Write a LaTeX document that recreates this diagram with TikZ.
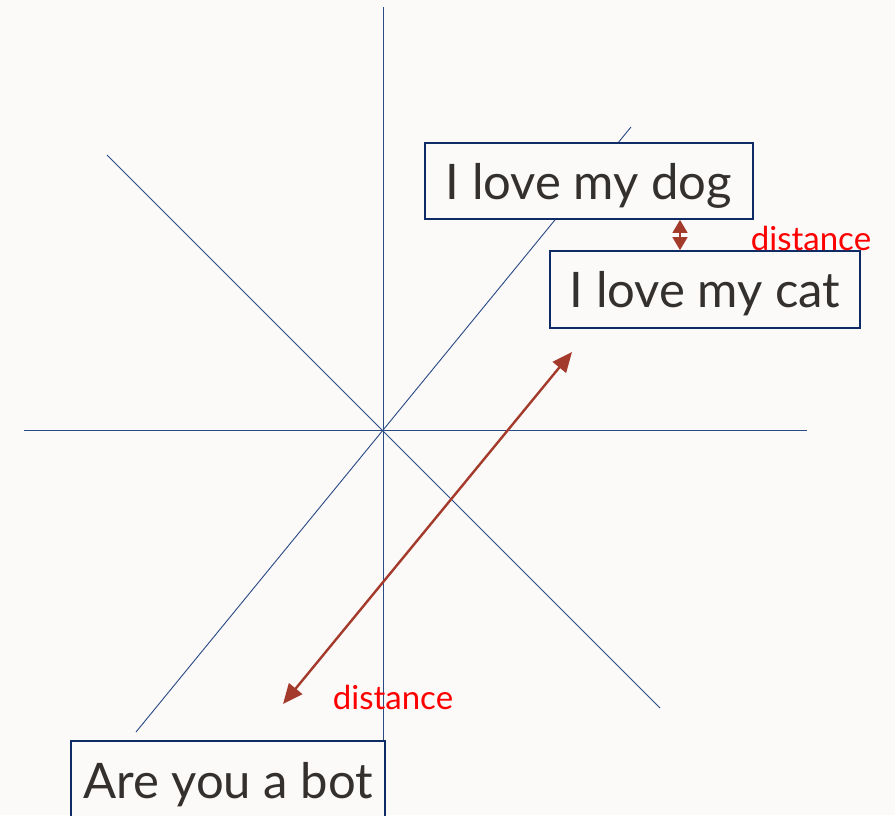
\documentclass[tikz,border=0pt]{standalone}
\usepackage{fontspec}
\setmainfont{Lato}
\usetikzlibrary{arrows.meta, positioning}
\definecolor{bgwarm}{HTML}{FBFAF9}
\definecolor{axisblue}{HTML}{2A4A86}
\definecolor{boxnavy}{HTML}{0E2B66}
\definecolor{textgray}{HTML}{33302E}
\definecolor{arrowred}{HTML}{A33A2B}
\definecolor{labelred}{HTML}{FF0000}

\begin{document}
\begin{tikzpicture}[
    x=1pt, y=-1pt,
    axis/.style={draw=axisblue, line width=0.9pt},
    sentence/.style={draw=boxnavy, line width=1.8pt, fill=bgwarm, text=textgray, font=\fontsize{49}{56}\selectfont, inner sep=0pt, text depth=0pt},
    darrow/.style={{Triangle[length=20pt, width=17pt]}-{Triangle[length=20pt, width=17pt]}, line width=2.4pt, draw=arrowred},
    sarrow/.style={{Triangle[length=13pt, width=15pt]}-{Triangle[length=13pt, width=15pt]}, line width=1.6pt, draw=arrowred},
    lbl/.style={font=\fontsize{33}{38}\selectfont, text=labelred}
]
    % page and background
    \useasboundingbox (0,0) rectangle (895,815);
    \fill[bgwarm] (0,0) rectangle (895,815);

    % embedding axes
    \coordinate (vtop) at (383,7);
    \coordinate (vbot) at (383,741);
    \coordinate (hleft) at (24,430);
    \coordinate (hright) at (807,430);
    \coordinate (dnw) at (107,155);
    \coordinate (dse) at (660,708);
    \coordinate (dne) at (631,127);
    \coordinate (dsw) at (136,732);
    \draw[axis] (vtop) -- (vbot);
    \draw[axis] (hleft) -- (hright);
    \draw[axis] (dnw) -- (dse);
    \draw[axis] (dne) -- (dsw);

    % sentences
    \node[sentence, minimum width=328pt, minimum height=76pt] (dog) at (589,181) {I love my dog};
    \node[sentence, minimum width=310pt, minimum height=77pt] (cat) at (705,289.5) {I love my cat};
    \node[sentence, minimum width=314pt, minimum height=78pt] (bot) at (228,780) {Are you a bot};

    % distances
    \coordinate (gapx) at (680,235);
    \draw[sarrow] (gapx |- dog.south) -- (gapx |- cat.north);
    \node[lbl] (neardist) at (811,238) {distance};

    \coordinate (farend) at (572,352);
    \coordinate (botend) at (283,704);
    \draw[darrow] (farend) -- (botend);
    \node[lbl] (fardist) at (393,697) {distance};
\end{tikzpicture}
\end{document}
